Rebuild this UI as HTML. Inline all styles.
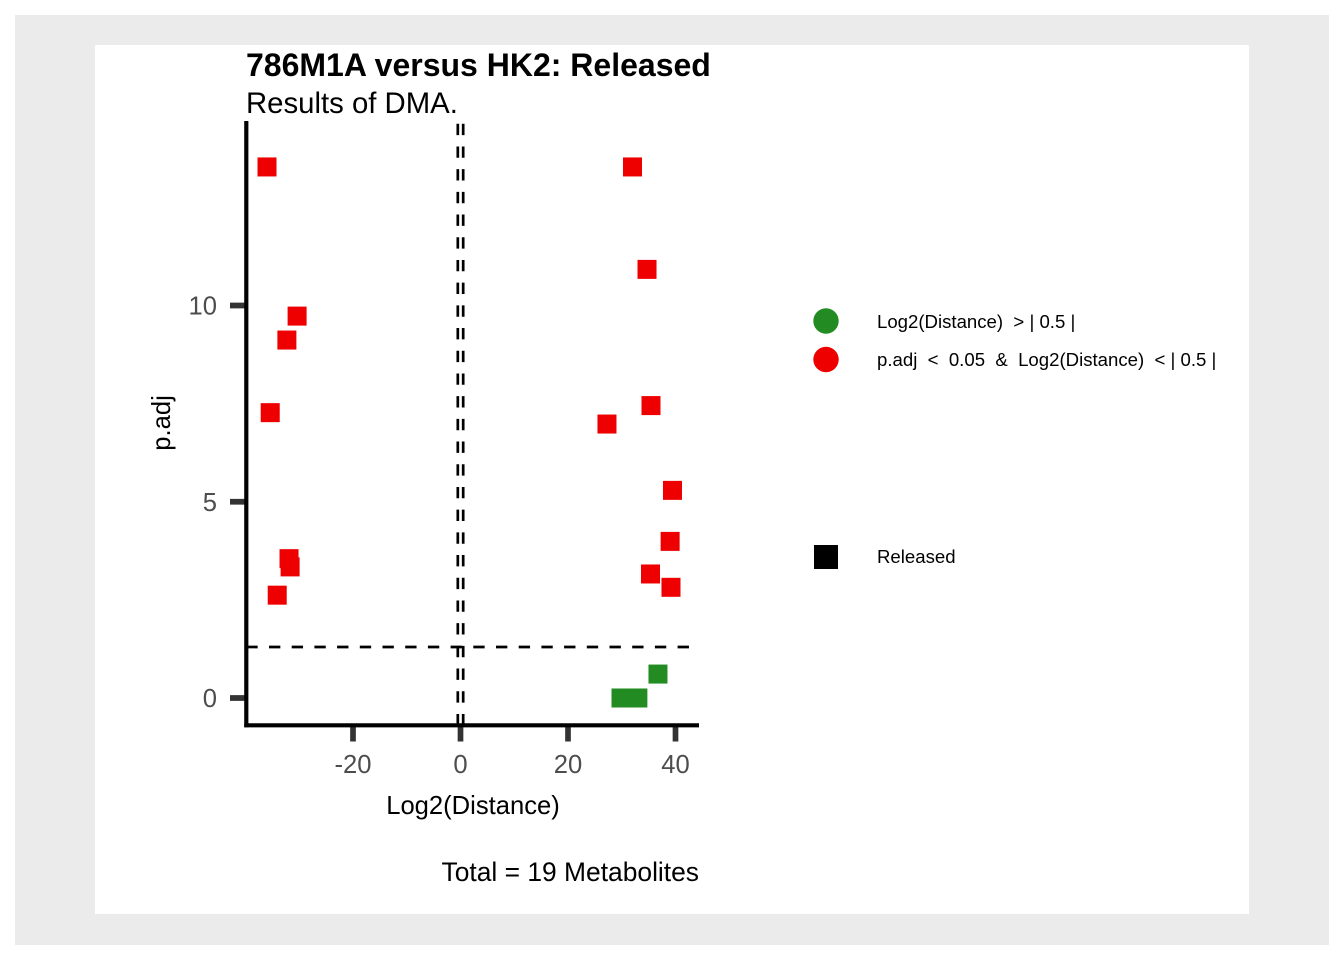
<!DOCTYPE html>
<html>
<head>
<meta charset="utf-8">
<style>
html,body{margin:0;padding:0;background:#fff;}
svg{display:block;}
text{font-family:"Liberation Sans",sans-serif;white-space:pre;}
</style>
</head>
<body>
<svg id="chart" width="1344" height="960" viewBox="0 0 1344 960" xmlns="http://www.w3.org/2000/svg">
<rect x="15" y="15" width="1314" height="930" fill="#EBEBEB"/>
<rect x="95" y="45" width="1154" height="869" fill="#FFFFFF"/>
<text x="246" y="76" font-size="32" font-weight="bold" fill="#000">786M1A versus HK2: Released</text>
<text x="246" y="113" font-size="29.33" fill="#000">Results of DMA.</text>
<g id="marks"></g>
<g id="guides"></g>
<g id="axes"></g>
<text x="473" y="814" font-size="25.6" text-anchor="middle" fill="#000">Log2(Distance)</text>
<text transform="translate(170,423) rotate(-90)" font-size="25.6" text-anchor="middle" fill="#000">p.adj</text>
<text x="699" y="881" font-size="26.4" text-anchor="end" fill="#000">Total = 19 Metabolites</text>
<circle cx="826" cy="321" r="12.7" fill="#228B22"/>
<text x="877" y="328" font-size="18.6" fill="#000">Log2(Distance)  &gt; | 0.5 |</text>
<circle cx="826" cy="359.5" r="12.7" fill="#EE0000"/>
<text x="877" y="366" font-size="18.6" fill="#000">p.adj  &lt;  0.05  &amp;  Log2(Distance)  &lt; | 0.5 |</text>
<rect x="814" y="545" width="24" height="24" fill="#000"/>
<text x="877" y="563" font-size="18.6" fill="#000">Released</text>
</svg>
<script>
const redX = [-36.0, 32.0, 34.7, -30.4, -32.3, -35.4, 35.44, 27.25, 39.44, 39.0, -31.9, -31.7, 35.35, 39.16, -34.1];
const redY = [13.53, 13.53, 10.92, 9.73, 9.12, 7.27, 7.45, 6.98, 5.29, 3.99, 3.55, 3.34, 3.16, 2.82, 2.62];
const greenX = [36.74, 29.86, 33.0];
const greenY = [0.61, 0, 0];
const xTicks = [-20, 0, 20, 40];
const yTicks = [0, 5, 10];
const vThresholds = [-0.5, 0.5];
const hThreshold = 1.3;

const NS = 'http://www.w3.org/2000/svg';
const sx = v => 460.5 + v * 5.375;
const sy = v => 698 - v * 39.25;
const SIZE = 19;
const PLOT = {left: 246.3, right: 699, top: 121, bottom: 725.3};
const marks = document.getElementById('marks');
const guides = document.getElementById('guides');
const axes = document.getElementById('axes');

function make(tag, attrs, parent) {
  const el = document.createElementNS(NS, tag);
  for (const k in attrs) el.setAttribute(k, attrs[k]);
  parent.appendChild(el);
  return el;
}
function drawSeries(xs, ys, color, name) {
  xs.forEach((x, i) => {
    const r = make('rect', {x: sx(x) - SIZE / 2, y: sy(ys[i]) - SIZE / 2, width: SIZE, height: SIZE, fill: color}, marks);
    
    
  });
}
drawSeries(redX, redY, '#EE0000', 'red-point');
drawSeries(greenX, greenY, '#228B22', 'green-point');

vThresholds.forEach(v => {
  const l = make('line', {x1: sx(v), x2: sx(v), y1: PLOT.bottom, y2: PLOT.top, stroke: '#000', 'stroke-width': 2.7, 'stroke-dasharray': '11.35 11.35'}, guides);
  
  
});
const hl = make('line', {x1: PLOT.left, x2: PLOT.right, y1: sy(hThreshold), y2: sy(hThreshold), stroke: '#000', 'stroke-width': 2.7, 'stroke-dasharray': '11.35 11.35'}, guides);



xTicks.forEach(v => {
  const t = make('line', {x1: sx(v), x2: sx(v), y1: PLOT.bottom, y2: 741.5, stroke: '#333333', 'stroke-width': 5.7}, axes);
  
  
  const lb = make('text', {x: sx(v), y: 773, 'font-size': 25.6, 'text-anchor': 'middle', fill: '#4D4D4D'}, axes);
  lb.textContent = v;
  
  
});
yTicks.forEach(v => {
  const t = make('line', {x1: 230, x2: PLOT.left, y1: sy(v), y2: sy(v), stroke: '#333333', 'stroke-width': 5.7}, axes);
  
  
  const lb = make('text', {x: 217, y: sy(v) + 9, 'font-size': 25.6, 'text-anchor': 'end', fill: '#4D4D4D'}, axes);
  lb.textContent = v;
  
  
});
const ya = make('line', {x1: PLOT.left, x2: PLOT.left, y1: PLOT.top, y2: PLOT.bottom + 2, stroke: '#000', 'stroke-width': 4.2}, axes);


const xa = make('line', {x1: PLOT.left - 2, x2: PLOT.right, y1: PLOT.bottom, y2: PLOT.bottom, stroke: '#000', 'stroke-width': 4.2}, axes);


</script>
</body>
</html>
